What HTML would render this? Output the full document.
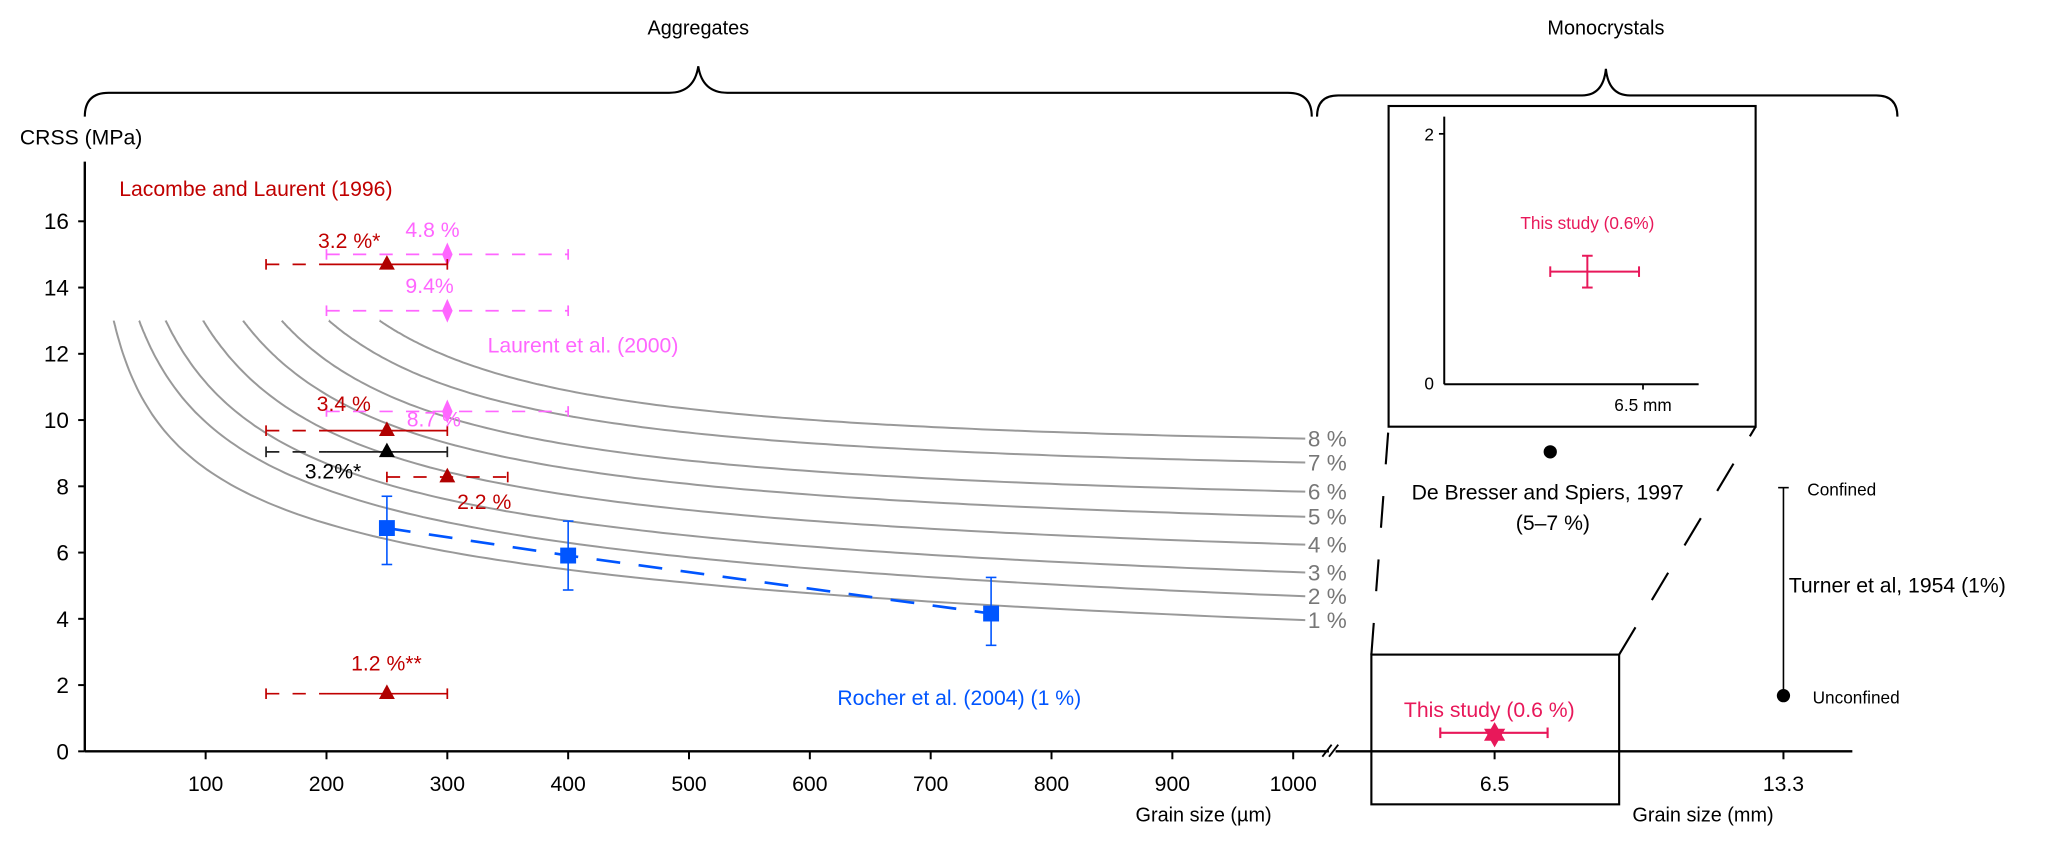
<!DOCTYPE html>
<html><head><meta charset="utf-8"><style>
html,body{margin:0;padding:0;background:#fff;}
svg{display:block;font-family:"Liberation Sans",sans-serif;}
</style></head><body>
<svg id="chart" width="2067" height="849" viewBox="0 0 1560 640.7" preserveAspectRatio="none" xmlns="http://www.w3.org/2000/svg">
<path d="M64,88 Q64,70 82,70 L505,70 Q524,70 527,50 Q530,70 549,70 L972,70 Q990,70 990,88" fill="none" stroke="#000" stroke-width="1.6"/>
<text x="527" y="26" font-size="15" text-anchor="middle">Aggregates</text>
<path d="M994,88 Q994,72 1010,72 L1194,72 Q1210,72 1212,52 Q1214,72 1230,72 L1416,72 Q1432,72 1432,88" fill="none" stroke="#000" stroke-width="1.6"/>
<text x="1212" y="26" font-size="15" text-anchor="middle">Monocrystals</text>
<text x="15" y="109" font-size="16">CRSS (MPa)</text>
<line x1="64" y1="122" x2="64" y2="567" stroke="#000" stroke-width="1.8"/>
<line x1="64" y1="567" x2="1003" y2="567" stroke="#000" stroke-width="1.8"/>
<line x1="1008" y1="567" x2="1398" y2="567" stroke="#000" stroke-width="1.8"/>
<line x1="998" y1="571" x2="1005" y2="562" stroke="#000" stroke-width="1.4"/>
<line x1="1003" y1="571" x2="1010" y2="562" stroke="#000" stroke-width="1.4"/>
<g id="yticks"></g><g id="xticks"></g><g id="curves"></g><g id="marks"></g>
<text x="857" y="620" font-size="15">Grain size (µm)</text>
<text x="1232" y="620" font-size="15">Grain size (mm)</text>
<text x="90" y="148" font-size="16" fill="#c00000">Lacombe and Laurent (1996)</text>
<text x="368" y="266" font-size="16" fill="#ff66ff">Laurent et al. (2000)</text>
<text x="632" y="532" font-size="16" fill="#0055ff">Rocher et al. (2004) (1 %)</text>
<text x="240" y="187" font-size="16" fill="#c00000">3.2 %*</text>
<text x="306" y="179" font-size="16" fill="#ff66ff">4.8 %</text>
<text x="306" y="221" font-size="16" fill="#ff66ff">9.4%</text>
<text x="307" y="322" font-size="16" fill="#ff66ff">8.7  %</text>
<text x="239" y="310" font-size="16" fill="#c00000">3.4 %</text>
<text x="230" y="361" font-size="16" fill="#000">3.2%*</text>
<text x="345" y="384" font-size="16" fill="#c00000">2.2 %</text>
<text x="265" y="506" font-size="16" fill="#c00000">1.2 %**</text>
<rect x="1048" y="80" width="277" height="242" fill="none" stroke="#000" stroke-width="1.6"/>
<line x1="1090" y1="88" x2="1090" y2="290" stroke="#000" stroke-width="1.5"/>
<line x1="1090" y1="290" x2="1282" y2="290" stroke="#000" stroke-width="1.5"/>
<line x1="1086" y1="101" x2="1090" y2="101" stroke="#000" stroke-width="1.3"/>
<line x1="1240" y1="290" x2="1240" y2="294" stroke="#000" stroke-width="1.3"/>
<text x="1075" y="106" font-size="13">2</text>
<text x="1075" y="294" font-size="13">0</text>
<text x="1240" y="310" font-size="13" text-anchor="middle">6.5 mm</text>
<text x="1198" y="173" font-size="13" fill="#e8185a" text-anchor="middle">This study (0.6%)</text>
<g stroke="#e8185a" stroke-width="1.5">
<line x1="1170" y1="205" x2="1237" y2="205"/><line x1="1170" y1="201" x2="1170" y2="209"/><line x1="1237" y1="201" x2="1237" y2="209"/>
<line x1="1198" y1="193" x2="1198" y2="217"/><line x1="1194" y1="193" x2="1202" y2="193"/><line x1="1194" y1="217" x2="1202" y2="217"/>
</g>
<rect x="1035" y="494" width="187" height="113" fill="none" stroke="#000" stroke-width="1.6"/>
<line x1="1035" y1="494" x2="1048" y2="322" stroke="#000" stroke-width="1.6" stroke-dasharray="24,24"/>
<line x1="1222" y1="494" x2="1325" y2="322" stroke="#000" stroke-width="1.6" stroke-dasharray="24,24"/>
<line x1="1128" y1="567" x2="1128" y2="573" stroke="#000" stroke-width="1.5"/>
<line x1="1346" y1="567" x2="1346" y2="573" stroke="#000" stroke-width="1.5"/>
<text x="1128" y="597" font-size="16" text-anchor="middle">6.5</text>
<text x="1346" y="597" font-size="16" text-anchor="middle">13.3</text>
<text x="1124" y="541" font-size="16" fill="#e8185a" text-anchor="middle">This study (0.6 %)</text>
<g stroke="#e8185a" stroke-width="1.6">
<line x1="1087" y1="553" x2="1168" y2="553"/><line x1="1087" y1="549" x2="1087" y2="557"/><line x1="1168" y1="549" x2="1168" y2="557"/>
</g>
<g fill="#e8185a">
<polygon points="1128,545 1136,559 1120,559"/><polygon points="1128,564 1136,550 1120,550"/>
</g>
<circle cx="1170" cy="341" r="5" fill="#000"/>
<text x="1168" y="377" font-size="16" text-anchor="middle">De Bresser and Spiers, 1997</text>
<text x="1172" y="400" font-size="16" text-anchor="middle">(5–7 %)</text>
<line x1="1346" y1="368" x2="1346" y2="525" stroke="#000" stroke-width="1.2"/>
<line x1="1342" y1="368" x2="1350" y2="368" stroke="#000" stroke-width="1.2"/>
<circle cx="1346" cy="525" r="5" fill="#000"/>
<text x="1364" y="374" font-size="13">Confined</text>
<text x="1368" y="531" font-size="13">Unconfined</text>
<text x="1350" y="447" font-size="16">Turner et al, 1954 (1%)</text>
</svg>
<script>
const yTicks=[0,2,4,6,8,10,12,14,16];
const xTicks=[100,200,300,400,500,600,700,800,900,1000];
const curveStrain=[1,2,3,4,5,6,7,8];
const curveStartGrain=[24,45,67,98,131,163,202,244];
const curveStartValue=[13,13,13,13,13,13,13,13];
const curveEndValue=[3.96,4.68,5.4,6.24,7.08,7.84,8.72,9.44];
const curveExponent=[0.25,0.35,0.5,0.7,0.9,1.1,1.3,1.5];
const triNames=['3.2-star','3.4','3.2-black','2.2','1.2'];
const triGrain=[250,250,250,300,250];
const triValue=[14.7,9.68,9.04,8.28,1.74];
const triLo=[150,150,150,250,150];
const triSolidLo=[200,200,200,null,200];
const triHi=[300,300,300,350,300];
const triColor=['#c00000','#c00000','#222','#c00000','#c00000'];
const pinkNames=['4.8','9.4','8.7'];
const pinkGrain=[300,300,300];
const pinkValue=[15.0,13.3,10.26];
const pinkLo=[200,200,200];
const pinkHi=[400,400,400];
const blueGrain=[250,400,750];
const blueValue=[6.74,5.91,4.16];
const blueErrHi=[7.7,6.95,5.25];
const blueErrLo=[5.64,4.87,3.2];

const NS='http://www.w3.org/2000/svg';
const X=g=>64+0.912*g;
const Y=v=>567-25*v;
function mk(parent,tag,attrs){const e=document.createElementNS(NS,tag);for(const k in attrs)e.setAttribute(k,attrs[k]);parent.appendChild(e);return e;}
const yt=document.getElementById('yticks'),xt=document.getElementById('xticks'),cv=document.getElementById('curves'),mks=document.getElementById('marks');
yTicks.forEach(v=>{
  const l=mk(yt,'line',{x1:59,x2:64,y1:Y(v),y2:Y(v),stroke:'#000','stroke-width':1.5});
  
  
  const t=mk(yt,'text',{x:52,y:Y(v)+6,'font-size':17,'text-anchor':'end'});t.textContent=v;
  
  
});
xTicks.forEach(g=>{
  const l=mk(xt,'line',{x1:X(g),x2:X(g),y1:567,y2:573,stroke:'#000','stroke-width':1.5});
  
  
  const t=mk(xt,'text',{x:X(g),y:597,'font-size':16,'text-anchor':'middle'});t.textContent=g;
  
  
});
const END=1010;
curveStrain.forEach((s,i)=>{
  const d0=curveStartGrain[i],N=curveExponent[i];
  const b=(curveStartValue[i]-curveEndValue[i])/(Math.pow(d0,-N)-Math.pow(END,-N));
  const a=curveEndValue[i]-b*Math.pow(END,-N);
  let pts=[];
  for(let k=0;k<=150;k++){const d=d0+(END-d0)*Math.pow(k/150,2);pts.push(X(d).toFixed(1)+','+Y(a+b*Math.pow(d,-N)).toFixed(1));}
  const p=mk(cv,'polyline',{points:pts.join(' '),fill:'none',stroke:'#999','stroke-width':1.5});
  
  
  const t=mk(cv,'text',{x:X(END)+2,y:Y(curveEndValue[i])+6,'font-size':17,fill:'#777'});t.textContent=s+' %';
  
  
});
function hbar(g,lo,solidLo,hi,v,col,name){
  const gr=mk(mks,'g',{stroke:col,'stroke-width':1.3});
  
  
  const dEnd=solidLo===null?hi:solidLo;
  mk(gr,'line',{x1:X(lo),x2:X(dEnd),y1:Y(v),y2:Y(v),'stroke-dasharray':'10,10'});
  if(solidLo!==null)mk(gr,'line',{x1:X(solidLo),x2:X(hi),y1:Y(v),y2:Y(v)});
  mk(gr,'line',{x1:X(lo),x2:X(lo),y1:Y(v)-4,y2:Y(v)+4});
  mk(gr,'line',{x1:X(hi),x2:X(hi),y1:Y(v)-4,y2:Y(v)+4});
}
pinkGrain.forEach((g,i)=>{
  hbar(g,pinkLo[i],null,pinkHi[i],pinkValue[i],'#ff66ff','laurent-errorbar-'+pinkNames[i]);
  const x=X(g),y=Y(pinkValue[i]);
  const d=mk(mks,'polygon',{points:`${x},${y-9} ${x+4},${y} ${x},${y+9} ${x-4},${y}`,fill:'#ff66ff'});
  
  
});
triGrain.forEach((g,i)=>{
  hbar(g,triLo[i],triSolidLo[i],triHi[i],triValue[i],triColor[i],'lacombe-errorbar-'+triNames[i]);
  const x=X(g),y=Y(triValue[i]);
  const t=mk(mks,'polygon',{points:`${x},${y-7} ${x+6},${y+4} ${x-6},${y+4}`,fill:triColor[i]==='#222'?'#000':'#b00000'});
  
  
});
const bl=mk(mks,'polyline',{points:blueGrain.map((g,i)=>X(g)+','+Y(blueValue[i])).join(' '),fill:'none',stroke:'#0055ff','stroke-width':2,'stroke-dasharray':'18,14'});


blueGrain.forEach((g,i)=>{
  const x=X(g);
  const gr=mk(mks,'g',{stroke:'#0055ff','stroke-width':1.2});
  
  
  mk(gr,'line',{x1:x,x2:x,y1:Y(blueErrHi[i]),y2:Y(blueErrLo[i])});
  mk(gr,'line',{x1:x-4,x2:x+4,y1:Y(blueErrHi[i]),y2:Y(blueErrHi[i])});
  mk(gr,'line',{x1:x-4,x2:x+4,y1:Y(blueErrLo[i]),y2:Y(blueErrLo[i])});
  const r=mk(mks,'rect',{x:x-6,y:Y(blueValue[i])-6,width:12,height:12,fill:'#0055ff'});
  
  
});
</script>
</body></html>
